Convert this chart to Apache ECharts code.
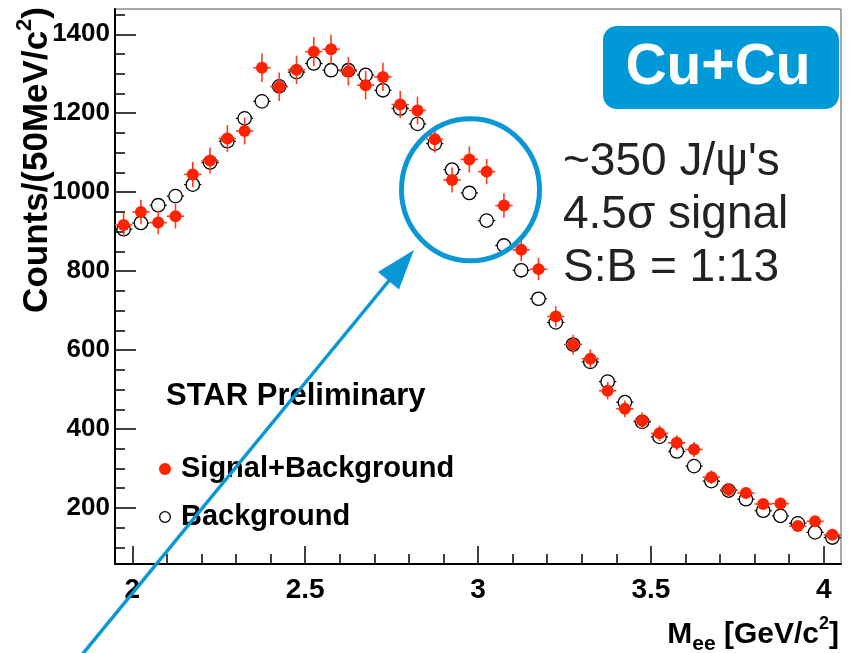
<!DOCTYPE html>
<html>
<head>
<meta charset="utf-8">
<style>
  html, body { margin: 0; padding: 0; background: #fff; }
  #chart { width: 856px; height: 653px; }
</style>
<script src="https://cdn.jsdelivr.net/npm/echarts@6/dist/echarts.min.js"></script>
</head>
<body>
<div id="chart"></div>
<script>
// Dielectron invariant mass, 50 MeV bins (bin centres in GeV/c^2)
const massBins = [
  1.975, 2.025, 2.075, 2.125, 2.175, 2.225, 2.275, 2.325, 2.375, 2.425,
  2.475, 2.525, 2.575, 2.625, 2.675, 2.725, 2.775, 2.825, 2.875, 2.925,
  2.975, 3.025, 3.075, 3.125, 3.175, 3.225, 3.275, 3.325, 3.375, 3.425,
  3.475, 3.525, 3.575, 3.625, 3.675, 3.725, 3.775, 3.825, 3.875, 3.925,
  3.975, 4.025
];

// Same-event unlike-sign pairs (signal + background)
const signalPlusBkg = [
  917, 950, 923, 939, 1045, 1080, 1136, 1155, 1315, 1267,
  1310, 1356, 1362, 1306, 1271, 1292, 1222, 1207, 1134, 1031,
  1083, 1052, 966, 854, 805, 685, 614, 578, 497, 451,
  421, 389, 365, 348, 278, 246, 238, 210, 211, 154,
  166, 132
];

// Statistical uncertainty on signal + background
const signalPlusBkgErr = [
  30, 31, 30, 31, 32, 33, 34, 34, 36, 36,
  36, 37, 37, 36, 36, 36, 35, 35, 34, 32,
  33, 32, 31, 29, 28, 26, 25, 24, 22, 21,
  21, 20, 19, 19, 17, 16, 15, 14, 15, 12,
  13, 12
];

// Combinatorial background estimate
const background = [
  906, 922, 967, 990, 1019, 1075, 1129, 1187, 1230, 1268,
  1304, 1326, 1309, 1309, 1297, 1258, 1212, 1173, 1123, 1057,
  998, 928, 865, 802, 730, 670, 614, 570, 520, 468,
  418, 380, 343, 306, 268, 244, 222, 193, 180, 161,
  138, 125
];

// Axis ticks and labels
const yMajorTicks = [200, 400, 600, 800, 1000, 1200, 1400];
const yMinorTicks = [100, 150, 250, 300, 350, 450, 500, 550, 650, 700, 750,
  850, 900, 950, 1050, 1100, 1150, 1250, 1300, 1350, 1450];
const xMajorTicks = [2, 2.5, 3, 3.5, 4];
const xMinorTicks = [2.1, 2.2, 2.3, 2.4, 2.6, 2.7, 2.8, 2.9, 3.1, 3.2, 3.3, 3.4,
  3.6, 3.7, 3.8, 3.9];

const BIN_WIDTH = 0.05;
const FONT = '"Liberation Sans", Arial, Helvetica, sans-serif';
const RED = '#ff2200';
const RED_BAR = '#ff3c1c';
const BLUE = '#0a97d5';
// open-circle legend marker (ring)
const RING_ICON = 'path://M0,12a12,12 0 1,0 24,0a12,12 0 1,0 -24,0zM2.6,12a9.4,9.4 0 1,1 18.8,0a9.4,9.4 0 1,1 -18.8,0z';

const sigData = massBins.map((m, i) => [m, signalPlusBkg[i], signalPlusBkgErr[i]]);
const bkgData = massBins.map((m, i) => [m, background[i]]);

function renderSignal(params, api) {
  const x = api.value(0), y = api.value(1), e = api.value(2);
  const c = api.coord([x, y]);
  const l = api.coord([x - BIN_WIDTH / 2, y]);
  const r = api.coord([x + BIN_WIDTH / 2, y]);
  const t = api.coord([x, y + e]);
  const b = api.coord([x, y - e]);
  const bar = { stroke: RED_BAR, lineWidth: 1.6 };
  return {
    type: 'group',
    children: [
      { type: 'line', shape: { x1: l[0], y1: c[1], x2: r[0], y2: c[1] }, style: bar },
      { type: 'line', shape: { x1: c[0], y1: t[1], x2: c[0], y2: b[1] }, style: bar },
      { type: 'circle', shape: { cx: c[0], cy: c[1], r: 6 }, style: { fill: RED } }
    ]
  };
}

function renderBackground(params, api) {
  const x = api.value(0), y = api.value(1);
  const c = api.coord([x, y]);
  const l = api.coord([x - BIN_WIDTH / 2, y]);
  const r = api.coord([x + BIN_WIDTH / 2, y]);
  const rad = 6.7;
  const bar = { stroke: '#000', lineWidth: 1.2 };
  return {
    type: 'group',
    children: [
      { type: 'line', shape: { x1: l[0], y1: c[1], x2: c[0] - rad, y2: c[1] }, style: bar },
      { type: 'line', shape: { x1: c[0] + rad, y1: c[1], x2: r[0], y2: c[1] }, style: bar },
      { type: 'circle', shape: { cx: c[0], cy: c[1], r: rad }, style: { fill: 'none', stroke: '#000', lineWidth: 1.3 } }
    ]
  };
}

const chart = echarts.init(document.getElementById('chart'), null, { renderer: 'canvas' });

const yRange = { min: 58, max: 1464 };
const xRange = { min: 1.95, max: 4.05 };

chart.setOption({
  animation: false,
  backgroundColor: '#fff',
  grid: {
    left: 115, right: 15, top: 9, bottom: 89,
    show: true, borderColor: '#555', borderWidth: 1, backgroundColor: 'transparent'
  },
  legend: {
    orient: 'vertical',
    left: 154,
    top: 447,
    itemWidth: 22,
    itemHeight: 12,
    itemGap: 14,
    selectedMode: false,
    textStyle: { fontFamily: FONT, fontSize: 29, fontWeight: 'bold', color: '#000', lineHeight: 34 },
    data: [
      { name: 'Signal+Background', icon: 'circle', itemStyle: { color: RED } },
      { name: 'Background', icon: RING_ICON, itemStyle: { color: '#000' } }
    ]
  },
  xAxis: [
    {
      type: 'value', min: xRange.min, max: xRange.max,
      axisLine: { show: true, lineStyle: { color: '#000', width: 2 } },
      axisTick: { show: true, inside: true, length: 18, customValues: xMajorTicks, lineStyle: { color: '#000', width: 1.5 } },
      axisLabel: { show: true, customValues: xMajorTicks, margin: 12, fontFamily: FONT, fontSize: 28, fontWeight: 'bold', color: '#000',
        formatter: v => String(v) },
      splitLine: { show: false }
    },
    {
      type: 'value', min: xRange.min, max: xRange.max, position: 'bottom',
      axisLine: { show: false },
      axisTick: { show: true, inside: true, length: 10, customValues: xMinorTicks, lineStyle: { color: '#000', width: 1.5 } },
      axisLabel: { show: false },
      splitLine: { show: false }
    }
  ],
  yAxis: [
    {
      type: 'value', min: yRange.min, max: yRange.max,
      axisLine: { show: true, lineStyle: { color: '#000', width: 2 } },
      axisTick: { show: true, inside: true, length: 21, customValues: yMajorTicks, lineStyle: { color: '#000', width: 1.5 } },
      axisLabel: { show: true, customValues: yMajorTicks, margin: 5, fontFamily: FONT, fontSize: 26, fontWeight: 'bold', color: '#000',
        formatter: v => String(v) },
      splitLine: { show: false }
    },
    {
      type: 'value', min: yRange.min, max: yRange.max, position: 'left',
      axisLine: { show: false },
      axisTick: { show: true, inside: true, length: 10, customValues: yMinorTicks, lineStyle: { color: '#000', width: 1.5 } },
      axisLabel: { show: false },
      splitLine: { show: false }
    }
  ],
  series: [
    {
      name: 'Background', type: 'custom', xAxisIndex: 0, yAxisIndex: 0,
      renderItem: renderBackground, data: bkgData, clip: true,
      encode: { x: 0, y: 1 }, itemStyle: { color: '#000' }, z: 2
    },
    {
      name: 'Signal+Background', type: 'custom', xAxisIndex: 0, yAxisIndex: 0,
      renderItem: renderSignal, data: sigData, clip: true,
      encode: { x: 0, y: 1 }, itemStyle: { color: RED }, z: 3
    }
  ],
  graphic: [
    // y-axis title
    {
      type: 'text', x: 37, y: 7, rotation: Math.PI / 2, z: 10,
      style: {
        text: '{a|Counts/(50MeV/c}{s|2}{a|)}',
        align: 'right', verticalAlign: 'middle',
        rich: {
          a: { fontFamily: FONT, fontSize: 35, fontWeight: 'bold', fill: '#000', lineHeight: 46, verticalAlign: 'middle' },
          s: { fontFamily: FONT, fontSize: 22, fontWeight: 'bold', fill: '#000', lineHeight: 46, verticalAlign: 'top' }
        }
      }
    },
    // x-axis title
    {
      type: 'text', x: 839, y: 635, z: 10,
      style: {
        text: '{a|M}{b|ee}{a| [GeV/c}{s|2}{a|]}',
        align: 'right', verticalAlign: 'middle',
        rich: {
          a: { fontFamily: FONT, fontSize: 30, fontWeight: 'bold', fill: '#000', lineHeight: 40, verticalAlign: 'middle' },
          b: { fontFamily: FONT, fontSize: 21, fontWeight: 'bold', fill: '#000', lineHeight: 40, verticalAlign: 'bottom' },
          s: { fontFamily: FONT, fontSize: 18, fontWeight: 'bold', fill: '#000', lineHeight: 40, verticalAlign: 'top' }
        }
      }
    },
    // legend header
    {
      type: 'text', x: 166, y: 396, z: 10,
      style: { text: 'STAR Preliminary', font: 'bold 31px ' + FONT, fill: '#000', align: 'left', verticalAlign: 'middle' }
    },
    // collision system badge
    {
      type: 'rect', z: 10,
      shape: { x: 603, y: 26, width: 236, height: 83, r: 14 },
      style: { fill: '#0099d8' }
    },
    {
      type: 'text', x: 718, y: 68, z: 11,
      style: { text: 'Cu+Cu', font: 'bold 57px ' + FONT, fill: '#fff', align: 'center', verticalAlign: 'middle' }
    },
    // J/psi yield summary
    {
      type: 'text', x: 563, y: 215, z: 10,
      style: {
        text: "~350 J/\u03c8's\n4.5\u03c3 signal\nS:B = 1:13",
        font: '46px ' + FONT, fill: '#222', lineHeight: 53,
        align: 'left', verticalAlign: 'middle'
      }
    },
    // highlight ring around the J/psi peak
    {
      type: 'ellipse', z: 12,
      shape: { cx: 470.5, cy: 189.7, rx: 69, ry: 71 },
      style: { fill: 'none', stroke: BLUE, lineWidth: 5 }
    },
    // pointer arrow
    {
      type: 'line', z: 12,
      shape: { x1: 76, y1: 662, x2: 392, y2: 277 },
      style: { stroke: BLUE, lineWidth: 3.5 }
    },
    {
      type: 'polygon', z: 12,
      shape: { points: [[414, 250], [377.9, 272.1], [399, 289.5]] },
      style: { fill: BLUE }
    }
  ]
});
</script>
</body>
</html>
